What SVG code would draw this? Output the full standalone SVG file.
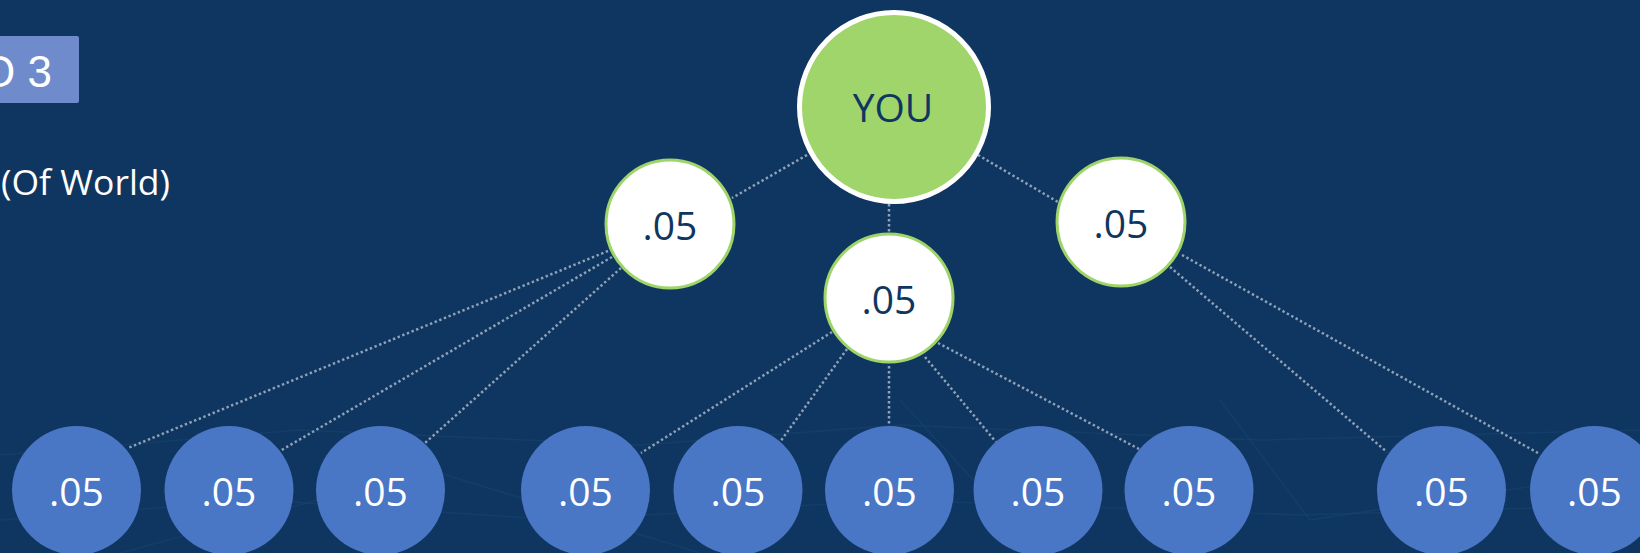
<svg xmlns="http://www.w3.org/2000/svg" width="1640" height="553" viewBox="0 0 1640 553">
  <style>
    .conn { stroke: #8FA2B8; stroke-width: 2.5; stroke-dasharray: 2.4 2.6; fill: none; }
    .leaf { fill: #4A76C6; }
    .mid { fill: #FFFFFF; stroke: #9ED468; stroke-width: 3; }
    .you { fill: #9FD56A; stroke: #FFFFFF; stroke-width: 5; }
    .t { font-family: "Open Sans", "DejaVu Sans", sans-serif; font-size: 39px; text-anchor: middle; }
    .tw { fill: #FFFFFF; }
    .td { fill: #0F3660; }
    .bg { stroke: #1A4670; stroke-width: 1.5; fill: none; opacity: 0.45; }
  </style>
  <rect x="0" y="0" width="1640" height="553" fill="#0F3660"/>
  <g id="background">
    <path class="bg" d="M0 455 L300 430 L640 445 L900 425 L1260 440 L1640 430"/>
    <path class="bg" d="M0 520 L260 500 L560 520 L900 500 L1300 515 L1640 505"/>
    <path class="bg" d="M120 553 L430 470 L700 553"/>
    <path class="bg" d="M900 400 L1040 553"/>
    <path class="bg" d="M1220 400 L1310 520 L1640 470"/>
  </g>
  <g id="title">
    <rect x="-6" y="36" width="85" height="67" rx="2" fill="#6F8BCB"/>
    <text x="-19" y="87" font-family="'Liberation Sans', Arial, sans-serif" font-size="44" fill="#FFFFFF">O 3</text>
    <text x="1" y="195" font-family="'Open Sans', 'DejaVu Sans', sans-serif" font-size="35.5" fill="#FFFFFF">(Of World)</text>
  </g>
  <g id="connectors">
    <line class="conn" x1="807" y1="155" x2="732" y2="198"/>
    <line class="conn" x1="889" y1="204" x2="889" y2="233"/>
    <line class="conn" x1="978" y1="155" x2="1058" y2="202"/>
    <line class="conn" x1="608" y1="251" x2="128" y2="448"/>
    <line class="conn" x1="612" y1="257" x2="280" y2="451"/>
    <line class="conn" x1="621" y1="268" x2="425" y2="443"/>
    <line class="conn" x1="832" y1="332" x2="641" y2="453"/>
    <line class="conn" x1="847" y1="349" x2="780" y2="442"/>
    <line class="conn" x1="889" y1="366" x2="889" y2="427"/>
    <line class="conn" x1="925" y1="357" x2="996" y2="442"/>
    <line class="conn" x1="938" y1="343" x2="1139" y2="449"/>
    <line class="conn" x1="1170" y1="267" x2="1387" y2="452"/>
    <line class="conn" x1="1182" y1="255" x2="1538" y2="453"/>
  </g>
  <g id="you">
    <circle class="you" cx="894" cy="107" r="94.5"/>
    <text class="t td" x="893" y="122" font-size="39">YOU</text>
  </g>
  <g id="n1">
    <circle class="mid" cx="670" cy="224" r="64"/>
    <text class="t td" x="670" y="240">.05</text>
  </g>
  <g id="n2">
    <circle class="mid" cx="889" cy="298" r="64"/>
    <text class="t td" x="889" y="314">.05</text>
  </g>
  <g id="n3">
    <circle class="mid" cx="1121" cy="222" r="64"/>
    <text class="t td" x="1121" y="238">.05</text>
  </g>
  <g id="l1"><circle class="leaf" cx="76.5" cy="490.5" r="64.5"/><text class="t tw" x="76.5" y="506">.05</text></g>
  <g id="l2"><circle class="leaf" cx="229" cy="490.5" r="64.5"/><text class="t tw" x="229" y="506">.05</text></g>
  <g id="l3"><circle class="leaf" cx="380.5" cy="490.5" r="64.5"/><text class="t tw" x="380.5" y="506">.05</text></g>
  <g id="l4"><circle class="leaf" cx="585.5" cy="490.5" r="64.5"/><text class="t tw" x="585.5" y="506">.05</text></g>
  <g id="l5"><circle class="leaf" cx="738" cy="490.5" r="64.5"/><text class="t tw" x="738" y="506">.05</text></g>
  <g id="l6"><circle class="leaf" cx="889.5" cy="490.5" r="64.5"/><text class="t tw" x="889.5" y="506">.05</text></g>
  <g id="l7"><circle class="leaf" cx="1038" cy="490.5" r="64.5"/><text class="t tw" x="1038" y="506">.05</text></g>
  <g id="l8"><circle class="leaf" cx="1189" cy="490.5" r="64.5"/><text class="t tw" x="1189" y="506">.05</text></g>
  <g id="l9"><circle class="leaf" cx="1441.5" cy="490.5" r="64.5"/><text class="t tw" x="1441.5" y="506">.05</text></g>
  <g id="l10"><circle class="leaf" cx="1594.5" cy="490.5" r="64.5"/><text class="t tw" x="1594.5" y="506">.05</text></g>
</svg>
